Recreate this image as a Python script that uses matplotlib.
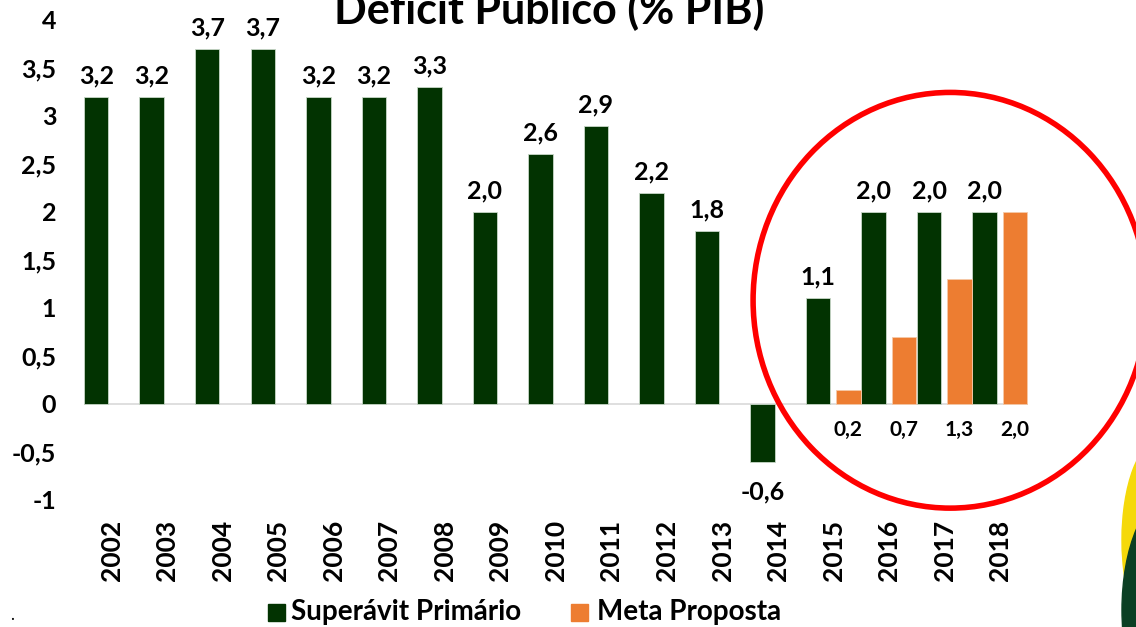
import numpy as np
import matplotlib.pyplot as plt
from matplotlib.patches import Ellipse, Rectangle

plt.rcParams['font.family'] = ['Lato', 'DejaVu Sans']

# data
anos = ["2002", "2003", "2004", "2005", "2006", "2007", "2008", "2009", "2010",
        "2011", "2012", "2013", "2014", "2015", "2016", "2017", "2018"]
superavit = [3.2, 3.2, 3.7, 3.7, 3.2, 3.2, 3.3, 2.0, 2.6, 2.9, 2.2, 1.8, -0.6,
             1.1, 2.0, 2.0, 2.0]
meta_anos = ["2015", "2016", "2017", "2018"]
meta = [0.15, 0.7, 1.3, 2.0]
meta_labels = ["0,2", "0,7", "1,3", "2,0"]

verde = "#023301"
laranja = "#ed7d31"

fig = plt.figure(figsize=(11.36, 6.27), dpi=100)
ax = fig.add_axes([0.0739, 0.2026, 0.831, 0.7656])

x = np.arange(len(anos))
w = 0.44
ax.bar(x - 0.28, superavit, w, color=verde, edgecolor="#c8d8c8", linewidth=0.6, zorder=3)
xm = np.array([anos.index(a) for a in meta_anos])
ax.bar(xm + 0.265, meta, w, color=laranja, edgecolor="#f5c9a8", linewidth=0.6, zorder=3)

ax.axhline(0, color="#d9d9d9", linewidth=1.2, zorder=2)

for xi, v in zip(x, superavit):
    txt = f"{v:.1f}".replace(".", ",")
    if v >= 0:
        ax.text(xi - 0.28, v + 0.1, txt, ha="center", va="bottom",
                fontsize=18, fontweight="bold")
    else:
        ax.text(xi - 0.28, v - 0.2, txt, ha="center", va="top",
                fontsize=18, fontweight="bold")

for xi, lab in zip(xm, meta_labels):
    ax.text(xi + 0.265, -0.17, lab, ha="center", va="top",
            fontsize=15, fontweight="bold")

ax.set_xlim(-0.5, len(anos) - 0.5)
ax.set_ylim(-1, 4)
yt = np.arange(-1, 4.01, 0.5)
ax.set_yticks(yt)
ax.set_yticklabels([f"{t:g}".replace(".", ",") for t in yt],
                   fontsize=18, fontweight="bold")
ax.set_xticks(x)
ax.set_xticklabels(anos, rotation=90, fontsize=19, fontweight="bold")
ax.tick_params(axis="both", length=0)
ax.tick_params(axis="y", pad=20)
ax.tick_params(axis="x", pad=14)
for s in ax.spines.values():
    s.set_visible(False)

# red circle highlight
circ = Ellipse((15.1, 1.08), 7.1, 4.33, fill=False, edgecolor="#ff0000",
               linewidth=4, clip_on=False, zorder=5)
ax.add_patch(circ)

fig.text(549 / 1136, 1 - 10 / 627, "Déficit Público (% PIB)", ha="center", va="center",
         fontsize=31, fontweight="bold")

# legend
fig.patches.append(Rectangle((268 / 1136, 1 - 621 / 627), 17 / 1136, 17 / 627,
                             transform=fig.transFigure, color=verde))
fig.text(291 / 1136, 1 - 612 / 627, "Superávit Primário", ha="left", va="center",
         fontsize=20, fontweight="bold")
fig.text(597 / 1136, 1 - 612 / 627, "Meta Proposta", ha="left", va="center",
         fontsize=20, fontweight="bold")
fig.patches.append(Rectangle((571 / 1136, 1 - 621 / 627), 17 / 1136, 17 / 627,
                             transform=fig.transFigure, color=laranja))

fig.text(10 / 1136, 1 - 615 / 627, ".", ha="left", va="center", fontsize=12)

# logo fragment bottom right
fig.patches.append(Ellipse((1160 / 1136, 1 - 540 / 627), 76 / 1136, 200 / 627,
                           transform=fig.transFigure, color="#f5d90a"))
fig.patches.append(Ellipse((1172 / 1136, 1 - 610 / 627), 100 / 1136, 230 / 627,
                           transform=fig.transFigure, color="#0b3f24"))

fig.savefig("out.png", dpi=100)
